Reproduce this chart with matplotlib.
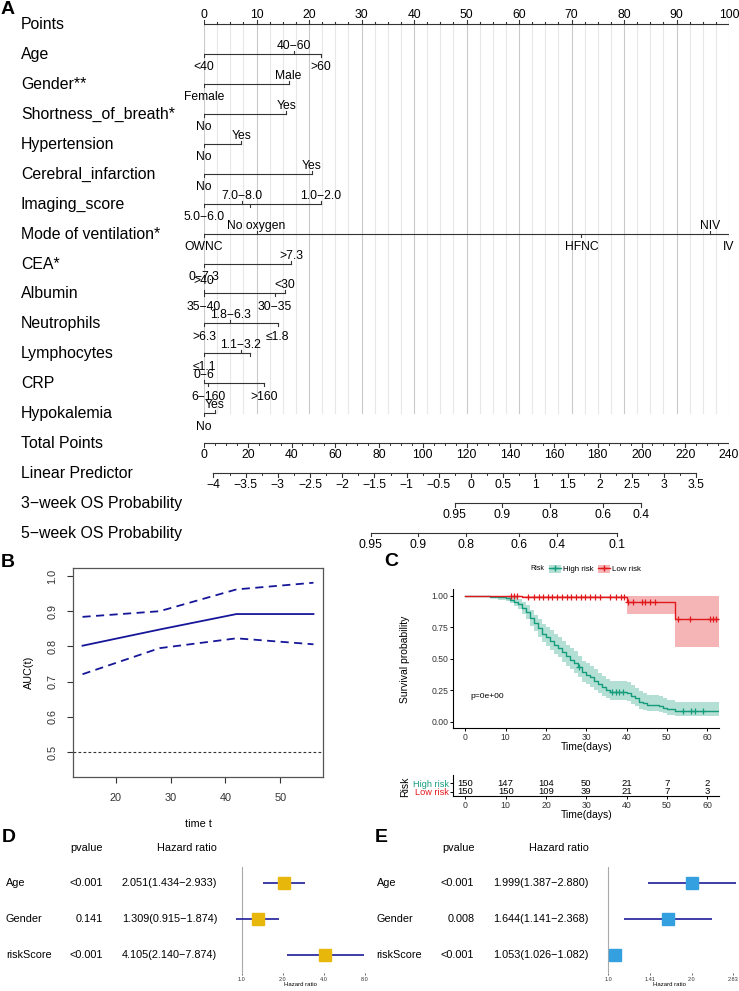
import numpy as np
import matplotlib.pyplot as plt
from matplotlib.patches import Patch
from matplotlib.lines import Line2D
from matplotlib.transforms import blended_transform_factory

plt.rcParams['font.family'] = ['Liberation Sans', 'DejaVu Sans']

# ---------------- A : nomogram ----------------
row_names = ['Points', 'Age', 'Gender**', 'Shortness_of_breath*', 'Hypertension',
             'Cerebral_infarction', 'Imaging_score', 'Mode of ventilation*', 'CEA*',
             'Albumin', 'Neutrophils', 'Lymphocytes', 'CRP', 'Hypokalemia',
             'Total Points', 'Linear Predictor', '3\u2212week OS Probability',
             '5\u2212week OS Probability']

age_lv = ['<40', '40\u221260', '>60']; age_pt = [0, 17.2, 22.2]
gender_lv = ['Female', 'Male']; gender_pt = [0, 16.1]
sob_lv = ['No', 'Yes']; sob_pt = [0, 15.7]
hyp_lv = ['No', 'Yes']; hyp_pt = [0, 7.1]
cer_lv = ['No', 'Yes']; cer_pt = [0, 20.5]
img_lv = ['5.0\u22126.0', '7.0\u22128.0', '', '1.0\u22122.0']; img_pt = [0, 7.3, 8.8, 22.2]
vent_lv = ['OWNC', 'No oxygen', 'HFNC', 'NIV', 'IV']; vent_pt = [0, 10.0, 71.9, 96.4, 100]
cea_lv = ['0\u22127.3', '>7.3']; cea_pt = [0, 16.6]
alb_lv = ['>40', '35\u221240', '30\u221235', '<30']; alb_pt = [0, 0, 13.5, 15.4]
neu_lv = ['>6.3', '1.8\u22126.3', '\u22641.8']; neu_pt = [0, 5.0, 14.0]
lym_lv = ['\u22641.1', '1.1\u22123.2', '']; lym_pt = [0, 7.0, 8.8]
crp_lv = ['0\u22126', '6\u2212160', '>160']; crp_pt = [0, 0.8, 11.5]
hypok_lv = ['No', 'Yes']; hypok_pt = [0, 2.1]

points_ticks = [0, 10, 20, 30, 40, 50, 60, 70, 80, 90, 100]
total_ticks = [0, 20, 40, 60, 80, 100, 120, 140, 160, 180, 200, 220, 240]
total_max = 240
lp_ticks = [-4, -3.5, -3, -2.5, -2, -1.5, -1, -0.5, 0, 0.5, 1, 1.5, 2, 2.5, 3, 3.5]
lp_anchor = [-4, 3.5]          # linear predictor
lp_anchor_total = [4.3, 225.1]  # matching total points
os3_labels = ['0.95', '0.9', '0.8', '0.6', '0.4']
os3_lp = [-0.25, 0.475, 1.225, 2.05, 2.64]
os5_labels = ['0.95', '0.9', '0.8', '0.6', '0.4', '0.1']
os5_lp = [-1.556, -0.829, -0.079, 0.744, 1.329, 2.261]

# ---------------- B : time dependent AUC ----------------
auc_time = [14, 28, 42, 56]
auc_mid = [0.802, 0.848, 0.892, 0.892]
auc_upper = [0.884, 0.900, 0.962, 0.981]
auc_lower = [0.721, 0.795, 0.823, 0.806]

# ---------------- C : Kaplan-Meier ----------------
high_t = [0, 6, 8, 10, 11, 12, 13, 14, 15, 16, 17, 18, 19, 20, 21, 22, 23, 24, 25, 26, 27,
          28, 29, 30, 31, 32, 33, 34, 35, 36, 40, 41, 42, 43, 44, 45, 48, 49, 50, 52, 63]
high_s = [1.0, 0.993, 0.987, 0.98, 0.967, 0.953, 0.933, 0.9, 0.867, 0.82, 0.78, 0.74, 0.70,
          0.673, 0.64, 0.613, 0.587, 0.553, 0.52, 0.493, 0.467, 0.433, 0.393, 0.373, 0.353,
          0.327, 0.3, 0.273, 0.253, 0.24, 0.227, 0.207, 0.187, 0.16, 0.147, 0.133, 0.127,
          0.113, 0.1, 0.087, 0.087]
high_lo = [1.0, 0.98, 0.969, 0.958, 0.939, 0.92, 0.894, 0.854, 0.815, 0.76, 0.717, 0.673,
           0.63, 0.601, 0.566, 0.538, 0.511, 0.476, 0.443, 0.416, 0.39, 0.357, 0.318, 0.299,
           0.28, 0.255, 0.23, 0.206, 0.188, 0.176, 0.164, 0.146, 0.129, 0.106, 0.095, 0.084,
           0.079, 0.068, 0.058, 0.047, 0.047]
high_hi = [1.0, 1.0, 1.0, 1.0, 0.995, 0.987, 0.973, 0.948, 0.922, 0.883, 0.849, 0.814, 0.778,
           0.753, 0.724, 0.698, 0.674, 0.642, 0.611, 0.585, 0.559, 0.526, 0.486, 0.466, 0.445,
           0.419, 0.391, 0.363, 0.341, 0.327, 0.313, 0.292, 0.27, 0.242, 0.227, 0.211, 0.204,
           0.188, 0.172, 0.16, 0.16]
high_cens = [28.3, 36.5, 37.3, 38.1, 39.2, 54, 56, 57, 59]

low_t = [0, 14, 40, 52, 63]
low_s = [1.0, 0.993, 0.947, 0.813, 0.813]
low_lo = [1.0, 0.98, 0.855, 0.59, 0.59]
low_hi = [1.0, 1.0, 1.0, 1.0, 1.0]
low_cens = [11.2, 12.0, 12.8, 15.5, 17, 18.2, 19.3, 20.5, 21.6, 22.8, 24, 25.2, 26.3, 27.5,
            28.6, 29.8, 31, 32.2, 33.3, 36, 37.3, 38.5, 39.3, 40.4, 41.7, 43.7, 44.5, 45.8,
            47, 52.8, 55.8, 60.8, 61.5, 62.3]

risk_times = [0, 10, 20, 30, 40, 50, 60]
high_at_risk = [150, 147, 104, 50, 21, 7, 2]
low_at_risk = [150, 150, 109, 39, 21, 7, 3]

# ---------------- D / E : forest plots ----------------
forest_vars = ['Age', 'Gender', 'riskScore']
d_p = ['<0.001', '0.141', '<0.001']
d_hr = [2.051, 1.309, 4.105]; d_lo = [1.434, 0.915, 2.140]; d_hi = [2.933, 1.874, 7.874]
e_p = ['<0.001', '0.008', '<0.001']
e_hr = [1.999, 1.644, 1.053]; e_lo = [1.387, 1.141, 1.026]; e_hi = [2.880, 2.368, 1.082]
d_ticks = [1.0, 2.0, 4.0, 8.0]; d_ticklabels = ['1.0', '2.0', '4.0', '8.0']
e_ticks = [1.0, 2 ** 0.5, 2.0, 2 ** 1.5]; e_ticklabels = ['1.0', '1.41', '2.0', '2.83']

W, H = 739, 991
fig = plt.figure(figsize=(W / 100, H / 100), dpi=100)


def px_axes(left, top, right, bottom):
    return fig.add_axes([left / W, 1 - bottom / H, (right - left) / W, (bottom - top) / H])


def ftext(x, y, s, **kw):
    return fig.text(x / W, 1 - y / H, s, **kw)


# ======== panel A ========
row0, row_h = 24, 29.94
axA = px_axes(204, 0, 729, 578)
axA.set_xlim(0, 100)
axA.set_ylim((578 - row0) / row_h, -row0 / row_h)
axA.axis('off')
u = 1 / row_h  # one pixel in row units
lc = '#333333'
fs_v = 8.7

# grid
for g in np.arange(0, 100.01, 2.5):
    major = abs(g % 10) < 1e-9
    axA.plot([g, g], [0, 13], color='#c9c9c9' if major else '#e8e8e8', lw=0.8, zorder=0)

trA = blended_transform_factory(fig.transFigure, axA.transData)
for r, name in enumerate(row_names):
    axA.text(21 / W, r + 5 * u, name, transform=trA, fontsize=11.4, va='baseline', ha='left')

# points axis
axA.plot([0, 100], [0, 0], color=lc, lw=0.8)
for p in np.arange(0, 100.01, 2.5):
    axA.plot([p, p], [0, -(4 if p % 10 == 0 else 2.5) * u], color=lc, lw=0.8)
for p in points_ticks:
    axA.text(p, -6 * u, str(p), ha='center', va='baseline', fontsize=fs_v)

variables = [(age_lv, age_pt, 'bab'), (gender_lv, gender_pt, 'ba'), (sob_lv, sob_pt, 'ba'),
             (hyp_lv, hyp_pt, 'ba'), (cer_lv, cer_pt, 'ba'), (img_lv, img_pt, 'baba'),
             (vent_lv, vent_pt, 'babab'), (cea_lv, cea_pt, 'ba'), (alb_lv, alb_pt, 'abba'),
             (neu_lv, neu_pt, 'bab'), (lym_lv, lym_pt, 'bab'), (crp_lv, crp_pt, 'abb'),
             (hypok_lv, hypok_pt, 'ba')]
extra_dy = {'>40': -4}
for i, (lv, pt, sides) in enumerate(variables):
    r = i + 1
    axA.plot([min(pt), max(pt)], [r, r], color=lc, lw=0.8)
    for lab, p, s in zip(lv, pt, sides):
        up = (s == 'a')
        axA.plot([p, p], [r, r + (-3 if up else 3) * u], color=lc, lw=0.8)
        if lab:
            dy = -5 if up else 16.5
            dy += extra_dy.get(lab, 0) if r == 9 else 0
            axA.text(p, r + dy * u, lab, ha='center', va='baseline', fontsize=fs_v)


def total_to_points(tp):
    return np.asarray(tp, dtype=float) * 100.0 / total_max


def lp_to_points(lp):
    slope = (lp_anchor_total[1] - lp_anchor_total[0]) / (lp_anchor[1] - lp_anchor[0])
    tp = lp_anchor_total[0] + (np.asarray(lp, dtype=float) - lp_anchor[0]) * slope
    return total_to_points(tp)


def scale_axis(r, xs, labels, minor=None):
    axA.plot([min(xs), max(xs)], [r, r], color=lc, lw=0.8)
    if minor is not None:
        for m in minor:
            axA.plot([m, m], [r, r + 2 * u], color=lc, lw=0.7)
    for x, lab in zip(xs, labels):
        axA.plot([x, x], [r, r + 3.5 * u], color=lc, lw=0.8)
        axA.text(x, r + 15 * u, lab, ha='center', va='baseline', fontsize=fs_v)


scale_axis(14, total_to_points(total_ticks), [str(t) for t in total_ticks],
           minor=total_to_points(np.arange(0, total_max + 0.1, 5)))
lp_labels = [('%g' % v).replace('-', '\u2212') for v in lp_ticks]
scale_axis(15, lp_to_points(lp_ticks), lp_labels,
           minor=lp_to_points(np.arange(-4, 3.51, 0.25)))
scale_axis(16, lp_to_points(os3_lp), os3_labels)
scale_axis(17, lp_to_points(os5_lp), os5_labels)

# ======== panel B ========
navy = '#16169a'
axB = px_axes(73.3, 568.3, 322.7, 777.3)
axB.plot(auc_time, auc_mid, color=navy, lw=1.3)
axB.plot(auc_time, auc_upper, color=navy, lw=1.3, ls=(0, (4.5, 3)))
axB.plot(auc_time, auc_lower, color=navy, lw=1.3, ls=(0, (4.5, 3)))
axB.axhline(0.5, color='#333333', lw=0.8, ls=(0, (2.5, 2)))
axB.set_xlim(12.32, 57.68)
axB.set_ylim(0.428, 1.022)
axB.set_xticks([20, 30, 40, 50])
axB.set_yticks([0.5, 0.6, 0.7, 0.8, 0.9, 1.0])
axB.set_yticklabels(['0.5', '0.6', '0.7', '0.8', '0.9', '1.0'])
for sp in axB.spines.values():
    sp.set_color('#555555'); sp.set_linewidth(0.9)
axB.tick_params(colors='#333333', labelsize=7.8, length=4.3, width=0.8, pad=7)
axB.tick_params(axis='y', labelrotation=90)
for lab in axB.get_yticklabels():
    lab.set_va('center')
ftext(29.3, 672.7, 'AUC(t)', rotation=90, ha='center', va='center', fontsize=7.8)
ftext(198, 824, 'time t', ha='center', va='center', fontsize=7.8)

# ======== panel C ========
c_high, c_low = '#159c7c', '#e2191c'
axC = px_axes(453.3, 589.3, 719.3, 728.3)
axC.fill_between(high_t, high_lo, high_hi, step='post', color=c_high, alpha=0.32, lw=0)
axC.fill_between(low_t, low_lo, low_hi, step='post', color=c_low, alpha=0.32, lw=0)
axC.step(high_t, high_s, where='post', color=c_high, lw=1.0)
axC.step(low_t, low_s, where='post', color=c_low, lw=1.0)


def surv_at(times, surv, t):
    idx = np.searchsorted(times, t, side='right') - 1
    return np.asarray(surv)[idx]


axC.plot(high_cens, surv_at(high_t, high_s, high_cens), ls='none', marker='+',
         color=c_high, ms=4.5, mew=0.9)
axC.plot(low_cens, surv_at(low_t, low_s, low_cens), ls='none', marker='+',
         color=c_low, ms=4.5, mew=0.9)
axC.set_xlim(-3, 63)
axC.set_ylim(-0.05, 1.05)
axC.set_xticks(risk_times)
axC.set_yticks([0, 0.25, 0.5, 0.75, 1.0])
axC.set_yticklabels(['0.00', '0.25', '0.50', '0.75', '1.00'])
for s in ['top', 'right']:
    axC.spines[s].set_visible(False)
for s in ['left', 'bottom']:
    axC.spines[s].set_linewidth(0.8)
axC.tick_params(labelsize=6.2, length=2.2, width=0.7, pad=1.3, labelcolor='#333333')
axC.text(1.2, 0.2, 'p=0e+00', fontsize=6.1, ha='left', va='center')
ftext(586.7, 747.3, 'Time(days)', ha='center', va='center', fontsize=7.5)
ftext(405, 659, 'Survival probability', rotation=90, ha='center', va='center', fontsize=7.5)

ftext(530, 569, 'Risk', ha='left', va='center', fontsize=5)
handles = [(Patch(facecolor=c_high, alpha=0.32, lw=0),
            Line2D([], [], color=c_high, marker='+', lw=1.0, ms=4)),
           (Patch(facecolor=c_low, alpha=0.32, lw=0),
            Line2D([], [], color=c_low, marker='+', lw=1.0, ms=4))]
fig.legend(handles, ['High risk', 'Low risk'], loc='center left',
           bbox_to_anchor=(549 / W, 1 - 569 / H), ncol=2, frameon=False, fontsize=5.7,
           handlelength=1.5, handleheight=1.3, handletextpad=0.3, columnspacing=0.5,
           borderpad=0, borderaxespad=0)

# risk table
axT = px_axes(453.3, 775, 719.3, 796)
axT.set_xlim(-3, 63)
axT.set_ylim(-0.5, 2.0)
for t, nh, nl in zip(risk_times, high_at_risk, low_at_risk):
    axT.text(t, 1, str(nh), ha='center', va='center', fontsize=6.8)
    axT.text(t, 0, str(nl), ha='center', va='center', fontsize=6.8)
axT.set_yticks([1, 0])
axT.set_yticklabels(['High risk', 'Low risk'])
for lab, col in zip(axT.get_yticklabels(), [c_high, c_low]):
    lab.set_color(col)
axT.set_xticks(risk_times)
for s in ['top', 'right']:
    axT.spines[s].set_visible(False)
for s in ['left', 'bottom']:
    axT.spines[s].set_linewidth(0.8)
axT.tick_params(axis='y', labelsize=6.6, length=2.2, width=0.7, pad=1)
axT.tick_params(axis='x', labelsize=6.3, length=2.2, width=0.7, pad=1.3, labelcolor='#333333')
ftext(586.7, 815, 'Time(days)', ha='center', va='center', fontsize=7.5)
ftext(405, 787, 'Risk', rotation=90, ha='center', va='center', fontsize=7.5)


# ======== panels D / E ========
def forest(left, right, hr1_x, px_per_doubling, pvals, hr, lo, hi, box_col,
           ticks, ticklabels, col_label, col_p, col_hr):
    ax = px_axes(left, 866.7, right, 973.3)
    ax.set_xscale('log', base=2)
    ax.set_xlim(2 ** ((left - hr1_x) / px_per_doubling), 2 ** ((right - hr1_x) / px_per_doubling))
    ax.set_ylim(2.5, -0.461)
    ax.axvline(1.0, color='#aaaaaa', lw=0.8)
    rows = np.arange(len(forest_vars))
    ax.hlines(rows, lo, hi, color='#1d1d9a', lw=1.2, zorder=2)
    ax.plot(hr, rows, ls='none', marker='s', ms=8.3, color=box_col, zorder=3)
    ax.set_xticks(ticks)
    ax.set_xticklabels(ticklabels)
    ax.minorticks_off()
    ax.set_yticks([])
    for s in ['top', 'right', 'left', 'bottom']:
        ax.spines[s].set_visible(False)
    ax.tick_params(axis='x', labelsize=4, length=1.5, width=0.5, pad=1.2, colors='#333333')
    ax.set_xlabel('Hazard ratio', fontsize=4.3, labelpad=0.3)
    tr = blended_transform_factory(fig.transFigure, ax.transData)
    head_y = -0.98
    ax.text(col_p / W, head_y, 'pvalue', transform=tr, ha='right', va='center', fontsize=7.8)
    ax.text(col_hr / W, head_y, 'Hazard ratio', transform=tr, ha='right', va='center',
            fontsize=7.8)
    for r, name in enumerate(forest_vars):
        ax.text(col_label / W, r, name, transform=tr, ha='left', va='center', fontsize=7.8)
        ax.text(col_p / W, r, pvals[r], transform=tr, ha='right', va='center', fontsize=7.8)
        ax.text(col_hr / W, r, '%.3f(%.3f\u2212%.3f)' % (hr[r], lo[r], hi[r]), transform=tr,
                ha='right', va='center', fontsize=7.8)
    return ax


forest(230, 370, 241.7, 41.0, d_p, d_hr, d_lo, d_hi, '#e8b70c', d_ticks, d_ticklabels,
       6, 102.7, 217.3)
forest(600, 738, 608.3, 83.4, e_p, e_hr, e_lo, e_hi, '#35a0e0', e_ticks, e_ticklabels,
       376.7, 474.3, 589)

# panel letters
for lab, x, y in [('A', 1, 10), ('B', 1, 562.5), ('C', 384, 561.5), ('D', 2, 837), ('E', 375, 837)]:
    ftext(x, y, lab, fontsize=14, fontweight='bold', ha='left', va='center')

fig.savefig('out.png', dpi=100)
